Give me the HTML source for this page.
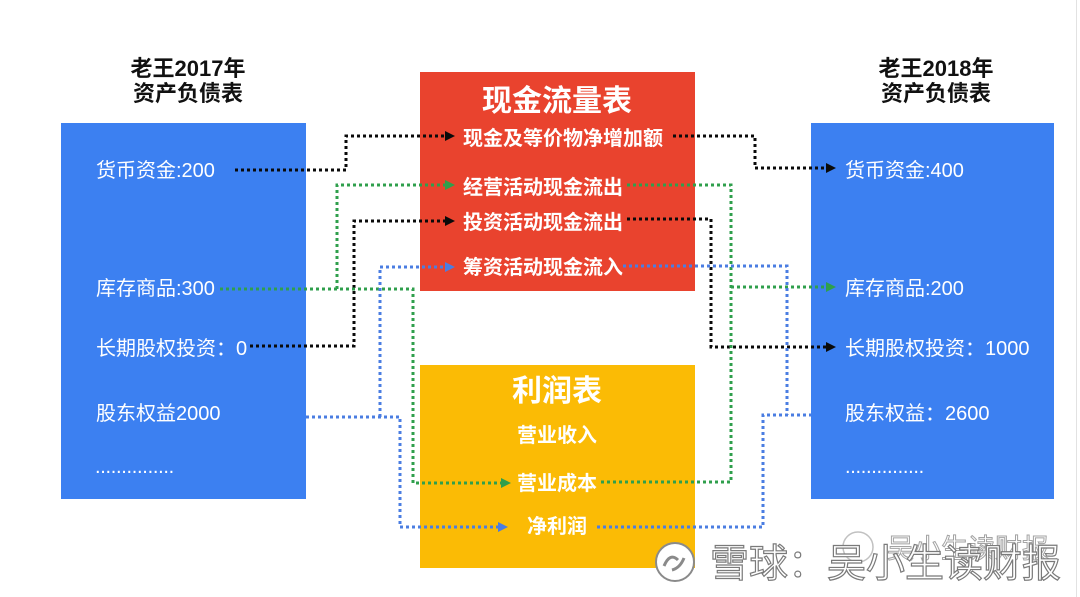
<!DOCTYPE html>
<html><head><meta charset="utf-8">
<style>
html,body{margin:0;padding:0;background:#fff;}
svg{display:block;}
text{font-family:"Liberation Sans","Noto Sans CJK SC",sans-serif;}
</style></head>
<body>
<svg width="1080" height="597" viewBox="0 0 1080 597" xmlns="http://www.w3.org/2000/svg">
<rect width="1080" height="597" fill="#fff"/>
<line x1="1076.5" y1="0" x2="1076.5" y2="597" stroke="#e2e2e2" stroke-width="1"/>

<!-- titles -->
<g font-size="22" font-weight="bold" fill="#111" text-anchor="middle">
<text x="188" y="76">老王2017年</text>
<text x="188" y="101">资产负债表</text>
<text x="936" y="76">老王2018年</text>
<text x="936" y="101">资产负债表</text>
</g>

<!-- boxes -->
<rect x="61" y="123" width="245" height="376" fill="#3c80f1"/>
<rect x="811" y="123" width="243" height="376" fill="#3c80f1"/>
<rect x="420" y="72" width="275" height="219" fill="#e9432e"/>
<rect x="420" y="365" width="275" height="203" fill="#fbbb05"/>

<!-- left box text -->
<g font-size="20" fill="#fff">
<text x="96" y="177">货币资金:200</text>
<text x="96" y="295">库存商品:300</text>
<text x="96" y="355">长期股权投资：0</text>
<text x="96" y="420">股东权益2000</text>
<text x="95" y="473" letter-spacing="-0.3">...............</text>
<text x="845" y="177">货币资金:400</text>
<text x="845" y="295">库存商品:200</text>
<text x="845" y="355">长期股权投资：1000</text>
<text x="845" y="420">股东权益：2600</text>
<text x="845" y="473" letter-spacing="-0.3">...............</text>
</g>

<!-- red box -->
<g fill="#fff" font-weight="bold">
<text x="557" y="111" font-size="30" text-anchor="middle">现金流量表</text>
<text x="463" y="145" font-size="20">现金及等价物净增加额</text>
<text x="463" y="194" font-size="20">经营活动现金流出</text>
<text x="463" y="229" font-size="20">投资活动现金流出</text>
<text x="463" y="274" font-size="20">筹资活动现金流入</text>
<text x="557" y="401" font-size="30" text-anchor="middle">利润表</text>
<text x="557" y="442" font-size="20" text-anchor="middle">营业收入</text>
<text x="557" y="490" font-size="20" text-anchor="middle">营业成本</text>
<text x="557" y="533" font-size="20" text-anchor="middle">净利润</text>
</g>

<!-- connectors -->
<g fill="none" stroke-width="3" stroke-dasharray="3 3">
<g stroke="#0a0a0a">
<polyline points="235,170 346,170 346,136 446,136"/>
<polyline points="250,346 354,346 354,221 446,221"/>
<polyline points="673,136 755,136 755,168 827,168"/>
<polyline points="627,219 711,219 711,347 827,347"/>
</g>
<g stroke="#2f9f4c">
<polyline points="220,289 413,289 413,483 502,483"/>
<polyline points="337,289 337,185 446,185"/>
<polyline points="627,185 731,185 731,482 600,482"/>
<polyline points="731,287 827,287"/>
</g>
<g stroke="#4a7de2">
<polyline points="306,417 400,417 400,527 499,527"/>
<polyline points="380,417 380,267 446,267"/>
<polyline points="597,527 763,527 763,415 811,415"/>
<polyline points="623,266 787,266 787,415"/>
</g>
</g>

<!-- arrowheads -->
<g>
<polygon points="445,131 455,136 445,141" fill="#0a0a0a"/>
<polygon points="445,216 455,221 445,226" fill="#0a0a0a"/>
<polygon points="826,163 836,168 826,173" fill="#0a0a0a"/>
<polygon points="826,342 836,347 826,352" fill="#0a0a0a"/>
<polygon points="445,180 455,185 445,190" fill="#2f9f4c"/>
<polygon points="501,478 511,483 501,488" fill="#2f9f4c"/>
<polygon points="826,282 836,287 826,292" fill="#2f9f4c"/>
<polygon points="445,262 455,267 445,272" fill="#4a7de2"/>
<polygon points="498,522 508,527 498,532" fill="#4a7de2"/>
</g>

<!-- watermark -->
<g opacity="0.9">
<circle cx="858" cy="547" r="15" fill="#fff" stroke="#bbb" stroke-width="1.5"/>
<text x="887" y="558" font-size="27" fill="#fff" stroke="#9a9a9a" stroke-width="1">吴小生读财报</text>
</g>
<g>
<circle cx="675" cy="562" r="19" fill="#fff" stroke="#8a8a8a" stroke-width="2"/>
<path d="M664 566 q6 -14 14 -6 M672 570 q8 -2 12 -12" fill="none" stroke="#8a8a8a" stroke-width="3"/>
<text x="710" y="577" font-size="39" fill="#fff" stroke="#7a7a7a" stroke-width="1.2">雪球：吴小生读财报</text>
</g>
</svg>
</body></html>
